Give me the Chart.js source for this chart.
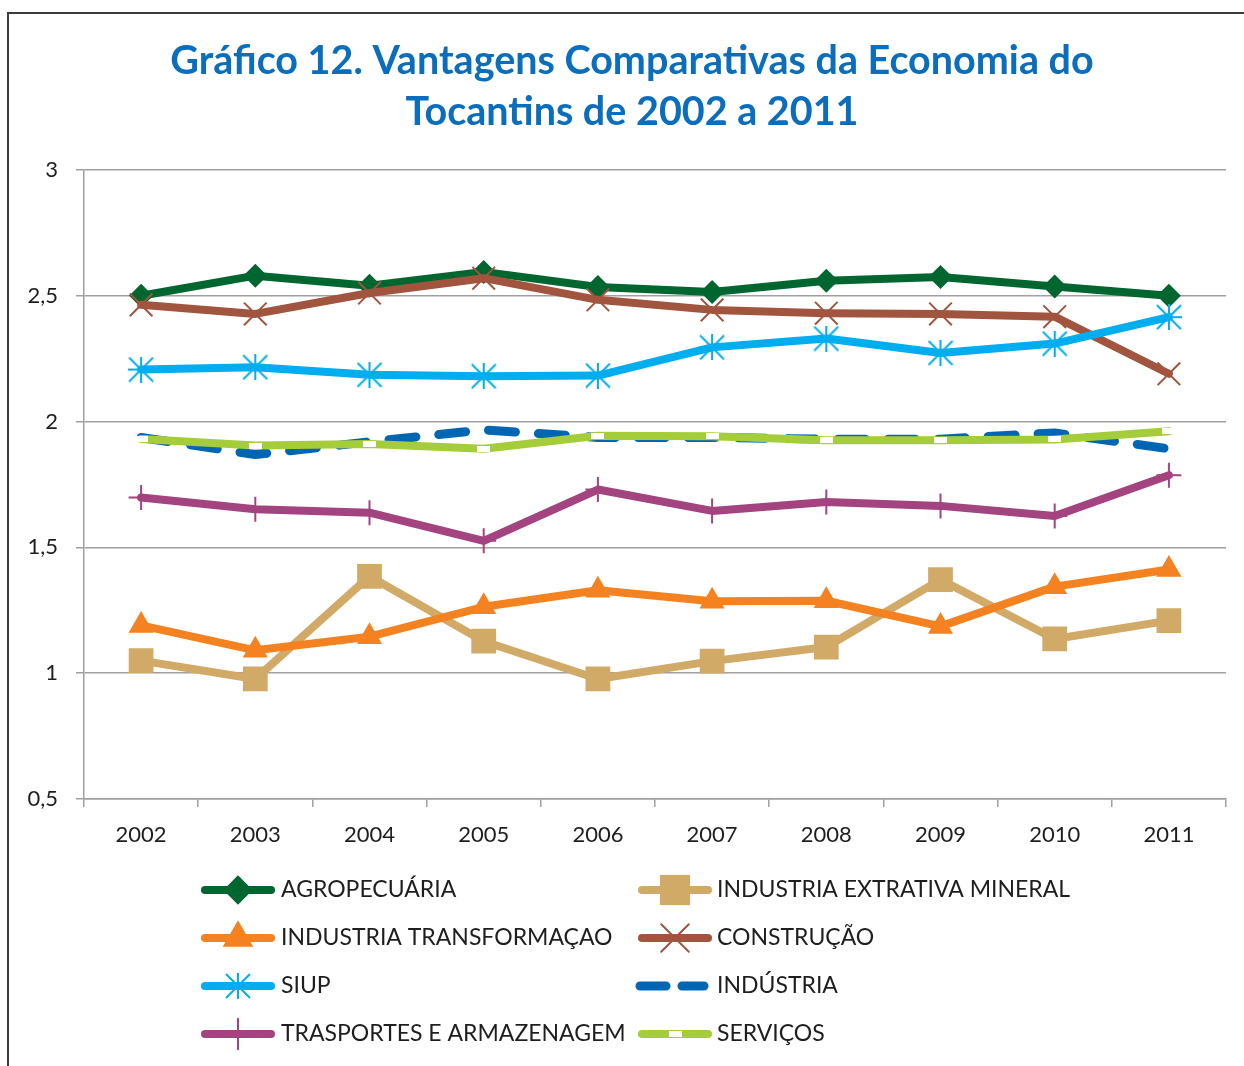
<!DOCTYPE html>
<html>
<head>
<meta charset="utf-8">
<script src="https://cdn.jsdelivr.net/npm/chart.js@4.4.1/dist/chart.umd.min.js"></script>
<style>
  html, body { margin: 0; padding: 0; background: #ffffff; }
  canvas { display: block; }
</style>
</head>
<body>
<canvas id="c" width="1244" height="1066"></canvas>
<script>
const titleLines = ['Gráfico 12. Vantagens Comparativas da Economia do', 'Tocantins de 2002 a 2011'];
const years = ['2002','2003','2004','2005','2006','2007','2008','2009','2010','2011'];
const yTickValues = [0.5, 1, 1.5, 2, 2.5, 3];
const yTickLabels = ['0,5', '1', '1,5', '2', '2,5', '3'];

const seriesNames = ['AGROPECUÁRIA', 'INDUSTRIA EXTRATIVA MINERAL', 'INDUSTRIA TRANSFORMAÇAO', 'CONSTRUÇÃO',
                     'SIUP', 'INDÚSTRIA', 'TRASPORTES E ARMAZENAGEM', 'SERVIÇOS'];
const agropecuaria = [2.50, 2.58, 2.54, 2.595, 2.535, 2.515, 2.56, 2.575, 2.537, 2.50];
const extrativa    = [1.05, 0.977, 1.385, 1.127, 0.977, 1.048, 1.104, 1.372, 1.136, 1.209];
const transformacao= [1.19, 1.091, 1.145, 1.264, 1.33, 1.286, 1.288, 1.186, 1.344, 1.412];
const construcao   = [2.464, 2.428, 2.511, 2.57, 2.484, 2.444, 2.431, 2.428, 2.417, 2.19];
const siup         = [2.207, 2.216, 2.186, 2.18, 2.183, 2.295, 2.33, 2.273, 2.31, 2.415];
const industria    = [1.937, 1.869, 1.92, 1.967, 1.937, 1.937, 1.93, 1.93, 1.955, 1.892];
const transportes  = [1.698, 1.652, 1.638, 1.526, 1.73, 1.645, 1.68, 1.665, 1.625, 1.787];
const servicos     = [1.931, 1.905, 1.911, 1.892, 1.944, 1.942, 1.926, 1.926, 1.929, 1.962];

const FONT = 'Lato, "Open Sans", sans-serif';
const TEXT = '#1e1e1e';
const GRID = '#a0a0a0';

function makeStar(color) {
  const c = document.createElement('canvas');
  c.width = 26; c.height = 26;
  const g = c.getContext('2d');
  g.strokeStyle = color; g.lineWidth = 2;
  g.beginPath();
  g.moveTo(13, 0); g.lineTo(13, 26);
  g.moveTo(1, 1); g.lineTo(25, 25);
  g.moveTo(25, 1); g.lineTo(1, 25);
  g.moveTo(0, 13); g.lineTo(26, 13);
  g.stroke();
  return c;
}
function makeWhiteRect() {
  const c = document.createElement('canvas');
  c.width = 13; c.height = 6;
  const g = c.getContext('2d');
  g.fillStyle = '#ffffff';
  g.fillRect(0, 0, 13, 6);
  return c;
}

const colors = {
  agro: '#00662f', extr: '#d2aa67', transf: '#f58220', constr: '#a1553f',
  siup: '#00aeef', ind: '#0066b3', transp: '#a3437f', serv: '#a5cd39'
};

const seriesData = [agropecuaria, extrativa, transformacao, construcao, siup, industria, transportes, servicos];
const styleDefs = [
  { color: colors.agro,   pointStyle: 'rectRot',  radius: 12, pbw: 0 },
  { color: colors.extr,   pointStyle: 'rect',     radius: 17.5, pbw: 0 },
  { color: colors.transf, pointStyle: 'triangle', radius: 14.5, pbw: 0 },
  { color: colors.constr, pointStyle: 'crossRot', radius: 16, pbw: 2 },
  { color: colors.siup,   pointStyle: makeStar(colors.siup), radius: 13, pbw: 0 },
  { color: colors.ind,    pointStyle: false, radius: 0, pbw: 0, dash: [27, 23], width: 9 },
  { color: colors.transp, pointStyle: 'cross',    radius: 12.5, pbw: 2 },
  { color: colors.serv,   pointStyle: makeWhiteRect(), radius: 7, pbw: 0 }
];

const datasets = seriesNames.map((name, i) => {
  const s = styleDefs[i];
  return {
    label: name,
    data: seriesData[i],
    borderColor: s.color,
    backgroundColor: s.color,
    borderWidth: s.width || 8,
    borderDash: s.dash || [],
    borderCapStyle: 'round',
    borderJoinStyle: 'round',
    tension: 0,
    fill: false,
    pointStyle: s.pointStyle,
    pointRadius: s.radius,
    pointHoverRadius: s.radius,
    pointBorderWidth: s.pbw,
    pointBorderColor: s.color,
    pointBackgroundColor: s.color,
    order: seriesNames.length - i
  };
});

const framePlugin = {
  id: 'frameAndTitle',
  beforeDraw(chart) {
    const ctx = chart.ctx;
    ctx.save();
    ctx.fillStyle = '#ffffff';
    ctx.fillRect(0, 0, chart.width, chart.height);
    ctx.strokeStyle = '#3c3c3c';
    ctx.lineWidth = 2;
    ctx.beginPath();
    ctx.moveTo(8, chart.height + 5);
    ctx.lineTo(8, 13);
    ctx.lineTo(chart.width + 5, 13);
    ctx.stroke();
    ctx.restore();
  },
  afterDraw(chart) {
    const ctx = chart.ctx;
    ctx.save();
    // title
    ctx.fillStyle = '#0a6ebd';
    ctx.font = 'bold 39.5px ' + FONT;
    ctx.textAlign = 'center';
    ctx.textBaseline = 'middle';
    ctx.fillText(titleLines[0], 632, 61);
    ctx.fillText(titleLines[1], 632, 112);

    // legend
    const cols = [{ x0: 205, x1: 271, tx: 281 }, { x0: 642, x1: 708, tx: 717 }];
    const rowsY = [890, 938, 986, 1034];
    ctx.font = '23px ' + FONT;
    ctx.textAlign = 'left';
    ctx.textBaseline = 'middle';
    seriesNames.forEach((name, i) => {
      const col = cols[i % 2];
      const y = rowsY[Math.floor(i / 2)];
      const s = styleDefs[i];
      ctx.strokeStyle = s.color;
      ctx.fillStyle = s.color;
      ctx.lineCap = 'round';
      if (s.dash) {
        ctx.lineWidth = 9;
        ctx.beginPath();
        ctx.moveTo(640, y); ctx.lineTo(666, y);
        ctx.moveTo(682, y); ctx.lineTo(704, y);
        ctx.stroke();
      } else {
        ctx.lineWidth = 8;
        ctx.beginPath();
        ctx.moveTo(col.x0, y); ctx.lineTo(col.x1, y);
        ctx.stroke();
        const cx = (col.x0 + col.x1) / 2;
        ctx.lineWidth = s.pbw;
        Chart.helpers.drawPoint(ctx, {
          pointStyle: s.pointStyle,
          radius: typeof s.pointStyle === 'string' ? s.radius * 1.22 : s.radius,
          rotation: 0,
          borderWidth: s.pbw
        }, cx, y);
      }
      ctx.fillStyle = TEXT;
      ctx.fillText(name, col.tx, y);
    });
    ctx.restore();
  }
};

new Chart(document.getElementById('c'), {
  type: 'line',
  data: { labels: years, datasets },
  plugins: [framePlugin],
  options: {
    responsive: false,
    animation: false,
    events: [],
    layout: { padding: { left: 20, right: 18, top: 170, bottom: 217 } },
    plugins: {
      legend: { display: false },
      title: { display: false },
      tooltip: { enabled: false }
    },
    scales: {
      x: {
        offset: true,
        grid: { offset: true, drawOnChartArea: false, drawTicks: true, tickLength: 8, color: GRID, lineWidth: 1.5 },
        border: { display: true, color: GRID, width: 1.5 },
        ticks: { font: { family: FONT, size: 22 }, color: TEXT, padding: 15, maxRotation: 0 },
        afterFit(scale) { scale.height = 50; }
      },
      y: {
        min: 0.5,
        max: 3,
        afterBuildTicks(scale) { scale.ticks = yTickValues.map(v => ({ value: v })); },
        grid: { color: GRID, lineWidth: 1.5, tickLength: 8, drawTicks: true },
        border: { display: true, color: GRID, width: 1.5 },
        ticks: {
          font: { family: FONT, size: 22 },
          color: TEXT,
          padding: 18,
          callback(value) {
            const idx = yTickValues.findIndex(v => Math.abs(v - value) < 1e-9);
            return idx >= 0 ? yTickLabels[idx] : '';
          }
        },
        afterFit(scale) { scale.width = 64; }
      }
    }
  }
});
</script>
</body>
</html>
